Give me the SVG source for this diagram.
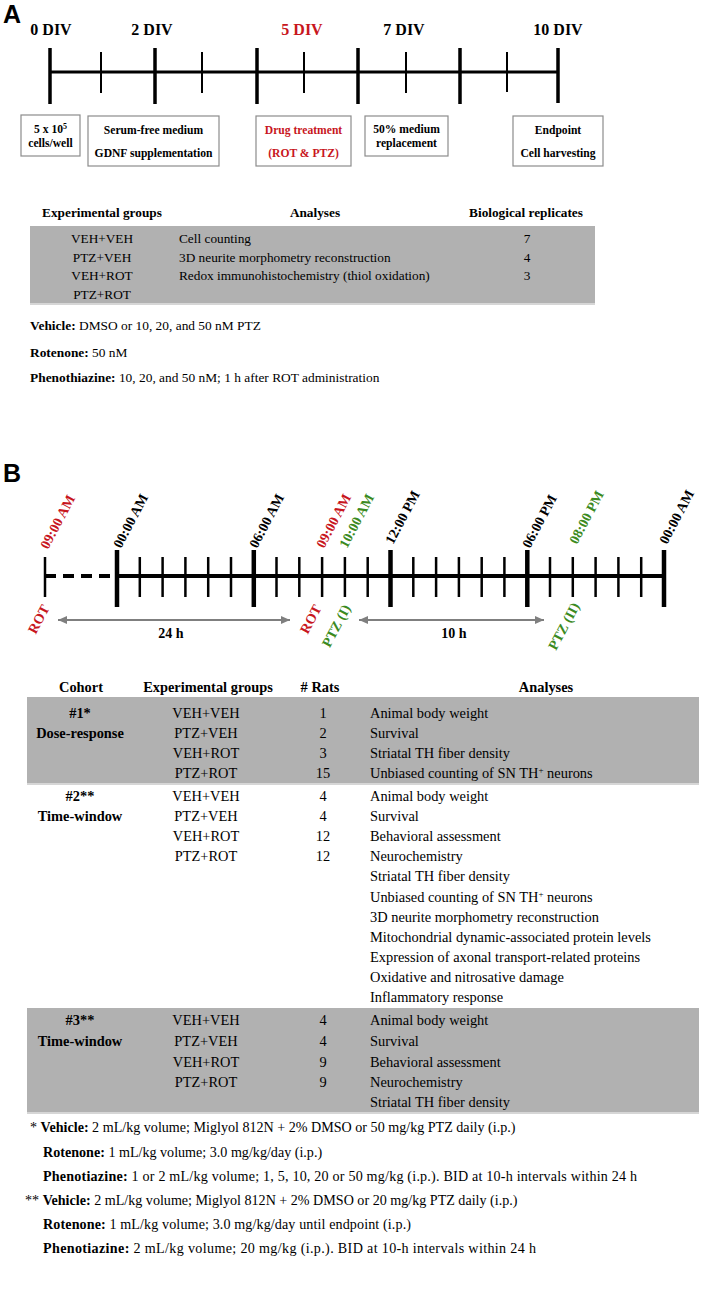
<svg xmlns="http://www.w3.org/2000/svg" width="702" height="1292" viewBox="0 0 702 1292">
<style>
text{font-family:"Liberation Serif","Times New Roman",serif;fill:#000}
.pl{font-family:"Liberation Sans",Arial,sans-serif;font-weight:bold;font-size:25px}
.div{font-weight:bold;font-size:16px;text-anchor:middle}
.bx{font-weight:bold;font-size:11.6px;text-anchor:middle}
.box{fill:#fff;stroke:#8c8c8c;stroke-width:1.2}
.red{fill:#c8161d}
.grn{fill:#3b8a21}
.th{font-weight:bold;font-size:13.3px;text-anchor:middle}
.ta{font-size:13.3px}
.na{font-size:13.4px}
.tl{font-weight:bold;font-size:14px}
.hb{font-weight:bold;font-size:14.4px;text-anchor:middle}
.tb{font-size:14.4px}
.nb{font-size:14.1px}
.mid{text-anchor:middle}
.end{text-anchor:end}
.b{font-weight:bold}
.shade{fill:#b1b1b1}
.edge{fill:#d6d6d6}
.maj{stroke:#000;stroke-width:3.5}
.min{stroke:#000;stroke-width:2}
.majB{stroke:#000;stroke-width:4.5}
.minB{stroke:#000;stroke-width:2.5}
.arr{stroke:#7f7f7f;stroke-width:2;fill:none;marker-start:url(#ah);marker-end:url(#ah)}
</style>
<defs>
<marker id="ah" markerUnits="userSpaceOnUse" markerWidth="9" markerHeight="8" refX="9" refY="4" orient="auto-start-reverse">
<path d="M0,0 L9,4 L0,8 z" fill="#7f7f7f"/>
</marker>
</defs>

<!-- Panel A -->
<g id="panelA-label"><text class="pl" x="3" y="23">A</text></g>

<g id="timelineA">
<line x1="50" y1="72" x2="558" y2="72" stroke="#000" stroke-width="3"/>
<line class="maj" x1="50" y1="48" x2="50" y2="104"/>
<line class="maj" x1="155" y1="48" x2="155" y2="104"/>
<line class="maj" x1="257" y1="48" x2="257" y2="104"/>
<line class="maj" x1="358" y1="48" x2="358" y2="104"/>
<line class="maj" x1="460" y1="48" x2="460" y2="104"/>
<line class="maj" x1="558" y1="48" x2="558" y2="103"/>
<line class="min" x1="101" y1="52" x2="101" y2="93"/>
<line class="min" x1="202" y1="52" x2="202" y2="93"/>
<line class="min" x1="304" y1="52" x2="304" y2="93"/>
<line class="min" x1="406" y1="52" x2="406" y2="93"/>
<line class="min" x1="507" y1="52" x2="507" y2="92"/>
<text class="div" x="51" y="35">0 DIV</text>
<text class="div" x="152" y="35">2 DIV</text>
<text class="div red" x="302" y="35">5 DIV</text>
<text class="div" x="404" y="35">7 DIV</text>
<text class="div" x="558" y="35">10 DIV</text>
</g>

<g id="boxA1">
<rect class="box" x="21" y="115" width="59" height="41"/>
<text class="bx" x="50.5" y="133">5 x 10<tspan font-size="8" dy="-4">5</tspan></text>
<text class="bx" x="50.5" y="147">cells/well</text>
</g>
<g id="boxA2">
<rect class="box" x="88" y="116" width="131" height="50"/>
<text class="bx" x="153.5" y="134">Serum-free medium</text>
<text class="bx" x="153.5" y="157">GDNF supplementation</text>
</g>
<g id="boxA3">
<rect class="box" x="256" y="116" width="95" height="50"/>
<text class="bx red" x="303.5" y="134">Drug treatment</text>
<text class="bx red" x="303.5" y="157">(ROT &amp; PTZ)</text>
</g>
<g id="boxA4">
<rect class="box" x="365" y="116" width="83" height="40"/>
<text class="bx" x="406.5" y="133">50% medium</text>
<text class="bx" x="406.5" y="147">replacement</text>
</g>
<g id="boxA5">
<rect class="box" x="513" y="116" width="90" height="50"/>
<text class="bx" x="558" y="134">Endpoint</text>
<text class="bx" x="558" y="157">Cell harvesting</text>
</g>

<g id="tableA">
<rect class="shade" x="30" y="226" width="565" height="77"/>
<rect class="edge" x="30" y="303" width="565" height="2"/>
<text class="th" x="102" y="217">Experimental groups</text>
<text class="th" x="315" y="217">Analyses</text>
<text class="th" x="526" y="217">Biological replicates</text>
<text class="ta mid" x="102" y="242.5">VEH+VEH</text>
<text class="ta mid" x="102" y="261.5">PTZ+VEH</text>
<text class="ta mid" x="102" y="279.5">VEH+ROT</text>
<text class="ta mid" x="102" y="298.5">PTZ+ROT</text>
<text class="ta" x="179" y="242.5">Cell counting</text>
<text class="ta" x="179" y="261.5">3D neurite morphometry reconstruction</text>
<text class="ta" x="179" y="279.5">Redox immunohistochemistry (thiol oxidation)</text>
<text class="ta mid" x="527" y="242.5">7</text>
<text class="ta mid" x="527" y="261.5">4</text>
<text class="ta mid" x="527" y="279.5">3</text>
</g>

<g id="notesA">
<text class="na" x="30" y="329.5"><tspan class="b">Vehicle:</tspan> DMSO or 10, 20, and 50 nM PTZ</text>
<text class="na" x="30" y="356.5"><tspan class="b">Rotenone:</tspan> 50 nM</text>
<text class="na" x="30" y="381.5"><tspan class="b">Phenothiazine:</tspan> 10, 20, and 50 nM; 1 h after ROT administration</text>
</g>

<!-- Panel B -->
<g id="panelB-label"><text class="pl" x="3" y="482">B</text></g>

<g id="timelineB">
<line x1="45" y1="576" x2="117" y2="576" stroke="#000" stroke-width="4" stroke-dasharray="11,7"/>
<line x1="117" y1="576" x2="664" y2="576" stroke="#000" stroke-width="4"/>
<line class="minB" x1="45" y1="557" x2="45" y2="597"/>
<line class="majB" x1="117" y1="550" x2="117" y2="607"/>
<line class="majB" x1="253.8" y1="550" x2="253.8" y2="607"/>
<line class="majB" x1="390.5" y1="550" x2="390.5" y2="607"/>
<line class="majB" x1="527.3" y1="550" x2="527.3" y2="607"/>
<line class="majB" x1="664" y1="550" x2="664" y2="607"/>
<g class="minB">
<line x1="139.8" y1="557" x2="139.8" y2="597"/>
<line x1="162.6" y1="557" x2="162.6" y2="597"/>
<line x1="185.4" y1="557" x2="185.4" y2="597"/>
<line x1="208.2" y1="557" x2="208.2" y2="597"/>
<line x1="231" y1="557" x2="231" y2="597"/>
<line x1="276.5" y1="557" x2="276.5" y2="597"/>
<line x1="299.3" y1="557" x2="299.3" y2="597"/>
<line x1="322.1" y1="557" x2="322.1" y2="597"/>
<line x1="344.9" y1="557" x2="344.9" y2="597"/>
<line x1="367.7" y1="557" x2="367.7" y2="597"/>
<line x1="413.3" y1="557" x2="413.3" y2="597"/>
<line x1="436.1" y1="557" x2="436.1" y2="597"/>
<line x1="458.9" y1="557" x2="458.9" y2="597"/>
<line x1="481.7" y1="557" x2="481.7" y2="597"/>
<line x1="504.4" y1="557" x2="504.4" y2="597"/>
<line x1="550" y1="557" x2="550" y2="597"/>
<line x1="572.8" y1="557" x2="572.8" y2="597"/>
<line x1="595.6" y1="557" x2="595.6" y2="597"/>
<line x1="618.4" y1="557" x2="618.4" y2="597"/>
<line x1="641.2" y1="557" x2="641.2" y2="597"/>
</g>
<text class="tl red" transform="translate(48,550) rotate(-62)">09:00 AM</text>
<text class="tl" transform="translate(121,549) rotate(-62)">00:00 AM</text>
<text class="tl" transform="translate(257,549) rotate(-62)">06:00 AM</text>
<text class="tl red" transform="translate(324,549) rotate(-62)">09:00 AM</text>
<text class="tl grn" transform="translate(347,549) rotate(-62)">10:00 AM</text>
<text class="tl" transform="translate(393,545) rotate(-62)">12:00 PM</text>
<text class="tl" transform="translate(530,549) rotate(-62)">06:00 PM</text>
<text class="tl grn" transform="translate(577,545) rotate(-62)">08:00 PM</text>
<text class="tl" transform="translate(667,545) rotate(-62)">00:00 AM</text>
<text class="tl red end" transform="translate(50,608) rotate(-62)">ROT</text>
<text class="tl red end" transform="translate(322,608) rotate(-62)">ROT</text>
<text class="tl grn end" transform="translate(351,608) rotate(-62)">PTZ (I)</text>
<text class="tl grn end" transform="translate(580,606) rotate(-62)">PTZ (II)</text>
</g>

<g id="connectors">
<line class="arr" x1="58" y1="620" x2="290" y2="620"/>
<line class="arr" x1="359" y1="620" x2="544" y2="620"/>
<text class="tl mid" x="171" y="638">24 h</text>
<text class="tl mid" x="454" y="638">10 h</text>
</g>

<g id="tableB">
<rect class="shade" x="27" y="697" width="672" height="86"/>
<rect class="edge" x="27" y="783" width="672" height="2"/>
<rect class="shade" x="27" y="1008" width="672" height="104"/>
<rect class="edge" x="27" y="1112" width="672" height="2"/>
<text class="hb" x="81" y="692">Cohort</text>
<text class="hb" x="208" y="692">Experimental groups</text>
<text class="hb" x="320" y="692"># Rats</text>
<text class="hb" x="546" y="692">Analyses</text>
</g>

<g id="cohort1">
<text class="hb" x="80" y="718">#1*</text>
<text class="hb" x="80" y="738">Dose-response</text>
<text class="tb mid" x="206" y="718">VEH+VEH</text>
<text class="tb mid" x="206" y="738">PTZ+VEH</text>
<text class="tb mid" x="206" y="758">VEH+ROT</text>
<text class="tb mid" x="206" y="778">PTZ+ROT</text>
<text class="tb mid" x="323" y="718">1</text>
<text class="tb mid" x="323" y="738">2</text>
<text class="tb mid" x="323" y="758">3</text>
<text class="tb mid" x="323" y="778">15</text>
<text class="tb" x="370" y="718">Animal body weight</text>
<text class="tb" x="370" y="738">Survival</text>
<text class="tb" x="370" y="758">Striatal TH fiber density</text>
<text class="tb" x="370" y="778">Unbiased counting of SN TH<tspan font-size="9" dy="-5">+</tspan><tspan dy="5"> neurons</tspan></text>
</g>

<g id="cohort2">
<text class="hb" x="80" y="801">#2**</text>
<text class="hb" x="80" y="821">Time-window</text>
<text class="tb mid" x="206" y="801">VEH+VEH</text>
<text class="tb mid" x="206" y="821">PTZ+VEH</text>
<text class="tb mid" x="206" y="841">VEH+ROT</text>
<text class="tb mid" x="206" y="861">PTZ+ROT</text>
<text class="tb mid" x="323" y="801">4</text>
<text class="tb mid" x="323" y="821">4</text>
<text class="tb mid" x="323" y="841">12</text>
<text class="tb mid" x="323" y="861">12</text>
<text class="tb" x="370" y="801">Animal body weight</text>
<text class="tb" x="370" y="821">Survival</text>
<text class="tb" x="370" y="841">Behavioral assessment</text>
<text class="tb" x="370" y="861">Neurochemistry</text>
<text class="tb" x="370" y="881">Striatal TH fiber density</text>
<text class="tb" x="370" y="901.5">Unbiased counting of SN TH<tspan font-size="9" dy="-5">+</tspan><tspan dy="5"> neurons</tspan></text>
<text class="tb" x="370" y="921.5">3D neurite morphometry reconstruction</text>
<text class="tb" x="370" y="941.5">Mitochondrial dynamic-associated protein levels</text>
<text class="tb" x="370" y="961.5">Expression of axonal transport-related proteins</text>
<text class="tb" x="370" y="981.5">Oxidative and nitrosative damage</text>
<text class="tb" x="370" y="1002">Inflammatory response</text>
</g>

<g id="cohort3">
<text class="hb" x="80" y="1025">#3**</text>
<text class="hb" x="80" y="1046">Time-window</text>
<text class="tb mid" x="206" y="1025">VEH+VEH</text>
<text class="tb mid" x="206" y="1046">PTZ+VEH</text>
<text class="tb mid" x="206" y="1067">VEH+ROT</text>
<text class="tb mid" x="206" y="1087">PTZ+ROT</text>
<text class="tb mid" x="323" y="1025">4</text>
<text class="tb mid" x="323" y="1046">4</text>
<text class="tb mid" x="323" y="1067">9</text>
<text class="tb mid" x="323" y="1087">9</text>
<text class="tb" x="370" y="1025">Animal body weight</text>
<text class="tb" x="370" y="1046">Survival</text>
<text class="tb" x="370" y="1067">Behavioral assessment</text>
<text class="tb" x="370" y="1087">Neurochemistry</text>
<text class="tb" x="370" y="1107">Striatal TH fiber density</text>
</g>

<g id="notesB">
<text class="nb" x="30" y="1132">* <tspan class="b">Vehicle:</tspan> 2 mL/kg volume; Miglyol 812N + 2% DMSO or 50 mg/kg PTZ daily (i.p.)</text>
<text class="nb" x="43" y="1157"><tspan class="b">Rotenone:</tspan> 1 mL/kg volume; 3.0 mg/kg/day (i.p.)</text>
<text class="nb" x="43" y="1181" textLength="594" lengthAdjust="spacing"><tspan class="b">Phenotiazine:</tspan> 1 or 2 mL/kg volume; 1, 5, 10, 20 or 50 mg/kg (i.p.). BID at 10-h intervals within 24 h</text>
<text class="nb" x="25" y="1205">** <tspan class="b">Vehicle:</tspan> 2 mL/kg volume; Miglyol 812N + 2% DMSO or 20 mg/kg PTZ daily (i.p.)</text>
<text class="nb" x="43" y="1229" textLength="368" lengthAdjust="spacing"><tspan class="b">Rotenone:</tspan> 1 mL/kg volume; 3.0 mg/kg/day until endpoint (i.p.)</text>
<text class="nb" x="43" y="1253" textLength="493" lengthAdjust="spacing"><tspan class="b">Phenotiazine:</tspan> 2 mL/kg volume; 20 mg/kg (i.p.). BID at 10-h intervals within 24 h</text>
</g>
</svg>
